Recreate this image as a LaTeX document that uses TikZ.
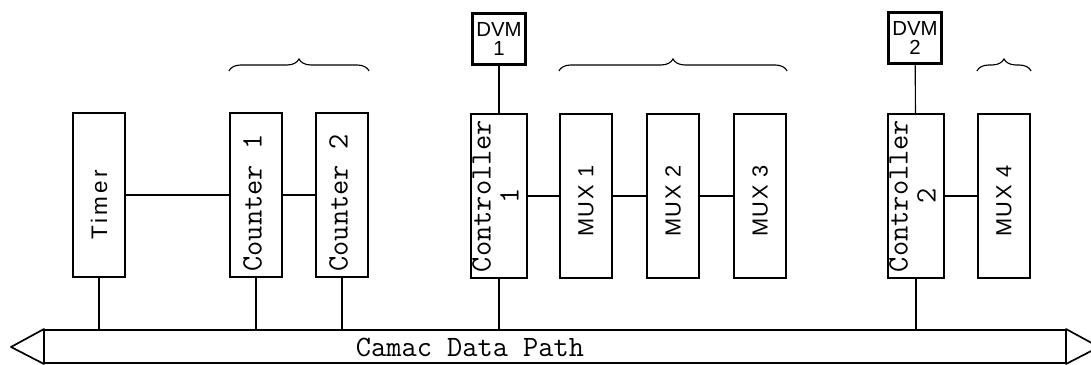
\documentclass[tikz,border=0pt]{standalone}
\usepackage{fontspec}
\newfontfamily\muxfont{Liberation Sans}
\newfontfamily\timerfont[LetterSpace=14]{Liberation Sans}
\usetikzlibrary{decorations.pathreplacing}

\begin{document}
\begin{tikzpicture}[x=0.025cm,y=-0.025cm,
    module/.style={draw,line width=1.6pt,minimum width=1.3cm,minimum height=4.1cm,inner sep=0pt},
    meter/.style={draw,line width=1.6pt,minimum width=1.33cm,minimum height=1.28cm,inner sep=0pt,
        align=center,font=\muxfont\fontsize{14.5}{14}\selectfont},
    wire/.style={line width=0.8pt},
    bus/.style={line width=1.2pt,line join=round},
    grp/.style={line width=0.8pt,decorate,decoration={brace,amplitude=0.3cm}}]

    % page size
    \clip (0,0) rectangle (1091,365);

    % macros for the two kinds of rotated text
    \newcommand{\ttlab}[2][0cm]{\rotatebox{90}{\ttfamily\fontsize{21}{20}\selectfont
        \begin{tabular}{@{}c@{}}#2\end{tabular}\hspace*{#1}}}
    \newcommand{\sflab}[1]{\rotatebox{90}{\muxfont\fontsize{15.5}{16}\selectfont
        \addfontfeature{LetterSpace=8}#1\hspace*{0.25cm}}}

    % modules in the crate
    \node [module] (timer) at (99,195) {\rotatebox{90}{\timerfont\fontsize{16}{17}\selectfont Timer\hspace*{0.5cm}}};
    \node [module] (c1) at (256,195) {\ttlab[0.4cm]{Counter 1}};
    \node [module] (c2) at (342,195) {\ttlab[0.4cm]{Counter 2}};
    \node [module] (ctl1) at (499,196) {\ttlab{Controller\\1}};
    \foreach \n/\x in {1/586, 2/673, 3/760} {
        \node [module] (mux\n) at (\x,196) {\sflab{MUX \n}};
    }
    \node [module] (ctl2) at (916,196) {\ttlab{Controller\\2}};
    \node [module] (mux4) at (1004,196) {\sflab{MUX 4}};

    % voltmeters on top of the controllers
    \node [meter] (dvm1) at (499,39) {DVM\\1};
    \node [meter] (dvm2) at (915,38) {DVM\\2};

    % the data path
    \coordinate (busL) at (44,330);
    \coordinate (busR) at (1066,330);
    \draw [bus] (busL) -- (busR);
    \draw [bus] (44,363) -- (1066,363);
    \draw [bus] (44,329) -- (11,347) -- (44,364) -- cycle;
    \draw [bus] (1066,329) -- (1099,347) -- (1066,364) -- cycle;
    \node (path) at (470,347) {\ttfamily\fontsize{21}{20}\selectfont Camac Data Path};

    % links between modules
    \foreach \a/\b in {timer/c1, c1/c2, ctl1/mux1, mux1/mux2, mux2/mux3, ctl2/mux4} {
        \draw [wire] (\a) -- (\b);
    }
    \draw [wire] (dvm1) -- (ctl1);
    \draw [wire] (dvm2) -- (ctl2);
    \foreach \m in {timer, c1, c2, ctl1, ctl2} {
        \draw [wire] (\m.south) -- (\m.south |- busL);
    }

    % braces over the groups
    \coordinate (brY) at (0,71);
    \draw [grp] (c1.west |- brY) -- (c2.east |- brY);
    \draw [grp] (mux1.west |- brY) -- (mux3.east |- brY);
    \draw [grp] (mux4.west |- brY) -- (mux4.east |- brY);

\end{tikzpicture}
\end{document}
